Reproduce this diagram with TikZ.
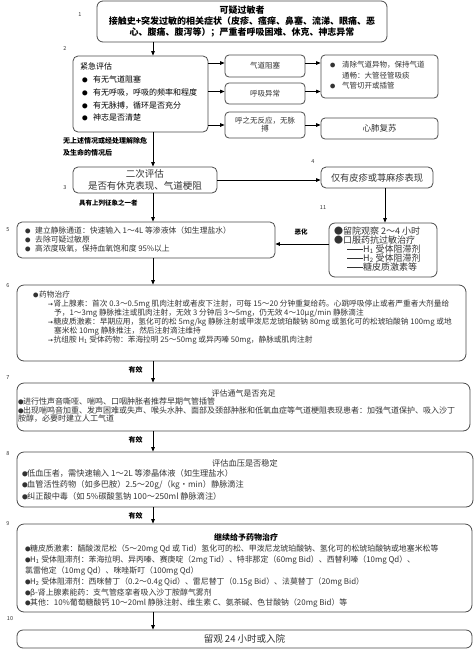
\documentclass[tikz,border=0pt]{standalone}
\usepackage{fontspec}
\usepackage{graphicx}
\setmainfont{Noto Sans CJK SC}
\usetikzlibrary{arrows.meta}
\newcommand{\fsz}[2]{\fontsize{#1pt}{#2pt}\selectfont}
\newcommand{\dotb}{\scalebox{0.7}{●}}
\newcommand{\arw}{\makebox[5.5pt][l]{\resizebox{5pt}{!}{\textbf{→}}}}
\definecolor{bordc}{HTML}{4A4A4A}
\definecolor{txtc}{HTML}{333333}
\begin{document}
\begin{tikzpicture}[x=1pt,y=-1pt,
  box/.style={draw=bordc, line width=0.8pt, rounded corners=6pt, inner sep=0pt, text=txtc},
  sbox/.style={draw=bordc, line width=0.8pt, rounded corners=4pt, inner sep=0pt, text=txtc},
  txtn/.style={inner sep=0pt, text=txtc, align=left},
  lab/.style={inner sep=0pt, text=black, align=left, font=\fsz{7}{12}\bfseries},
  num/.style={inner sep=0pt, text=txtc, font=\fsz{5.5}{6}},
  arr/.style={draw=black, line width=0.8pt, -{Triangle[length=4.5pt,width=3.6pt]}}]
\useasboundingbox (0,0) rectangle (474,649);

% column coordinates
\coordinate (mx) at (153,0);
\coordinate (rx) at (385,0);
\coordinate (ya) at (0,63);
\coordinate (yb) at (0,91.5);
\coordinate (yc) at (0,125);
\coordinate (yd) at (0,180);
\coordinate (ye) at (0,244);

% box 1
\node[box, minimum width=290pt, minimum height=41pt, align=center, text=black,
  font=\fsz{9}{11}\bfseries] (b1) at (242,21.5)
  {可疑过敏者\\接触史+突发过敏的相关症状（皮疹、瘙痒、鼻塞、流涕、眼痛、恶\\心、腹痛、腹泻等）；严重者呼吸困难、休克、神志异常};

% box 2
\node[box, rounded corners=5pt, minimum width=135pt, minimum height=76pt] (b2) at (140.5,94) {};
\node[txtn, anchor=north west, text=black, font=\fsz{8}{12.7}] (t2) at (80,63)
  {紧急评估\\
   \hspace*{2pt}\makebox[11pt][l]{\dotb}有无气道阻塞\\
   \hspace*{2pt}\makebox[11pt][l]{\dotb}有无呼吸，呼吸的频率和程度\\
   \hspace*{2pt}\makebox[11pt][l]{\dotb}有无脉搏，循环是否充分\\
   \hspace*{2pt}\makebox[11pt][l]{\dotb}神志是否清楚};

% small boxes
\node[sbox, minimum width=80pt, minimum height=22pt, font=\fsz{7.5}{8}] (ba) at (265,66) {气道阻塞};
\node[sbox, minimum width=80pt, minimum height=21pt, font=\fsz{7.5}{8}] (bb) at (265,93.5) {呼吸异常};
\node[sbox, minimum width=80pt, minimum height=26pt, align=center, font=\fsz{7.5}{8}] (bc) at (265,125) {呼之无反应，无脉\\搏};
\node[sbox, minimum width=117pt, minimum height=43pt] (bd) at (379.5,76.5) {};
\node[txtn, anchor=north west, font=\fsz{7.5}{10.5}] (td) at (330,61.2)
  {\makebox[12pt][l]{\dotb}清除气道异物，保持气道\\
   \hspace*{12pt}通畅：大管径管吸痰\\
   \makebox[12pt][l]{\dotb}气管切开或插管};
\node[sbox, minimum width=117pt, minimum height=21pt, font=\fsz{8.5}{9}] (be) at (379.5,128.5) {心肺复苏};

\node[lab, anchor=north west] (la) at (63,137.5) {无上述情况或经处理解除危\\及生命的情况后};

% box 3, 4
\node[box, rounded corners=5pt, minimum width=144pt, minimum height=26pt, align=center,
  font=\fsz{9.5}{12}] (b3) at (145,180) {二次评估\\是否有休克表现、气道梗阻};
\node[box, rounded corners=5pt, minimum width=112pt, minimum height=21pt,
  font=\fsz{9.2}{10}] (b4) at (377,177.5) {仅有皮疹或荨麻疹表现};
\node[lab, anchor=west, font=\fsz{6.5}{7}\bfseries] (lb) at (79,203) {具有上列征象之一者};

% box 5
\node[box, rounded corners=5pt, minimum width=258pt, minimum height=36pt] (b5) at (146,240) {};
\node[txtn, anchor=north west, font=\fsz{7.8}{8.6}] (t5) at (25,227.1)
  {\makebox[10pt][l]{\dotb}建立静脉通道：快速输入 1～4L 等渗液体（如生理盐水）\\
   \makebox[10pt][l]{\dotb}去除可疑过敏原\\
   \makebox[10pt][l]{\dotb}高浓度吸氧，保持血氧饱和度 95\%以上};

% box 11
\node[box, minimum width=108pt, minimum height=54pt] (b11) at (383,250) {};
\node[txtn, anchor=north west, font=\fsz{9}{9}] (t11) at (334,226.5)
  {●留院观察 2～4 小时\\
   ●口服药抗过敏治疗\\
   \hspace*{13pt}\rule[0.32em]{16pt}{0.5pt}H\textsubscript{1} 受体阻滞剂\\
   \hspace*{13pt}\rule[0.32em]{16pt}{0.5pt}H\textsubscript{2} 受体阻滞剂\\
   \hspace*{13pt}\rule[0.32em]{16pt}{0.5pt}糖皮质激素等};
\node[lab, font=\fsz{6.5}{7}\bfseries] (lc) at (301,232) {恶化};

% box 6
\node[box, rounded corners=7pt, minimum width=449pt, minimum height=76pt] (b6) at (241.5,323) {};
\node[txtn, anchor=north west, font=\fsz{7.7}{9}] (t6) at (33,291.2)
  {\makebox[6pt][l]{\dotb}药物治疗\\
   \hspace*{15pt}\arw 肾上腺素：首次 0.3～0.5mg 肌肉注射或者皮下注射，可每 15～20 分钟重复给药。心跳呼吸停止或者严重者大剂量给\\
   \hspace*{21pt}予，1～3mg 静脉推注或肌肉注射，无效 3 分钟后 3～5mg，仍无效 4～10μg/min 静脉滴注\\
   \hspace*{15pt}\arw 糖皮质激素：早期应用，氢化可的松 5mg/kg 静脉注射或甲泼尼龙琥珀酸钠 80mg 或氢化可的松琥珀酸钠 100mg 或地\\
   \hspace*{21pt}塞米松 10mg 静脉推注，然后注射滴注维持\\
   \hspace*{15pt}\arw 抗组胺 H\textsubscript{1} 受体药物：苯海拉明 25～50mg 或异丙嗪 50mg，静脉或肌肉注射};

% box 7
\node[box, rounded corners=7pt, minimum width=453pt, minimum height=48pt] (b7) at (243.5,407) {};
\node[txtn, font=\fsz{8}{9}] (tt7) at (243.5,393) {评估通气是否充足};
\node[txtn, anchor=north west, font=\fsz{8}{8.3}] (t7) at (18,398)
  {\makebox[5pt][l]{\dotb}进行性声音嘶哑、喘鸣、口咽肿胀者推荐早期气管插管\\
   \makebox[5pt][l]{\dotb}出现喘鸣音加重、发声困难或失声、喉头水肿、面部及颈部肿胀和低氧血症等气道梗阻表现患者：加强气道保护、吸入沙丁\\
   胺醇，必要时建立人工气道};

% box 8
\node[box, rounded corners=7pt, minimum width=456pt, minimum height=55pt] (b8) at (245,479.5) {};
\node[txtn, font=\fsz{8.2}{9}] (tt8) at (245,463) {评估血压是否稳定};
\node[txtn, anchor=north west, font=\fsz{8.2}{11.5}] (t8) at (22,468.9)
  {\makebox[5pt][l]{\dotb}低血压者，需快速输入 1～2L 等渗晶体液（如生理盐水）\\
   \makebox[5pt][l]{\dotb}血管活性药物（如多巴胺）2.5～20g/（kg・min）静脉滴注\\
   \makebox[5pt][l]{\dotb}纠正酸中毒（如 5\%碳酸氢钠 100～250ml 静脉滴注）};

% box 9
\node[box, rounded corners=7pt, minimum width=455pt, minimum height=88pt] (b9) at (244.5,568) {};
\node[txtn, text=black, font=\fsz{8}{9}\bfseries] (tt9) at (246,537) {继续给予药物治疗};
\node[txtn, anchor=north west, font=\fsz{7.9}{10.8}] (t9) at (25,545)
  {\makebox[5pt][l]{\dotb}糖皮质激素：醋酸泼尼松（5～20mg Qd 或 Tid）氢化可的松、甲泼尼龙琥珀酸钠、氢化可的松琥珀酸钠或地塞米松等\\
   \makebox[5pt][l]{\dotb}H\textsubscript{1} 受体阻滞剂：苯海拉明、异丙嗪、赛庚啶（2mg Tid）、特非那定（60mg Bid）、西替利嗪（10mg Qd）、\\
   氯雷他定（10mg Qd）、咪唑斯叮（100mg Qd）\\
   \makebox[5pt][l]{\dotb}H\textsubscript{2} 受体阻滞剂：西咪替丁（0.2～0.4g Qid）、雷尼替丁（0.15g Bid）、法莫替丁（20mg Bid）\\
   \makebox[5pt][l]{\dotb}β-肾上腺素能药：支气管痉挛者吸入沙丁胺醇气雾剂\\
   \makebox[5pt][l]{\dotb}其他：10\%葡萄糖酸钙 10～20ml 静脉注射、维生素 C、氨茶碱、色甘酸钠（20mg Bid）等};

% box 10
\node[box, rounded corners=6pt, minimum width=455pt, minimum height=18pt, font=\fsz{9.5}{10}] (b10) at (244.5,639) {留观 24 小时或入院};

% labels
\node[lab] (e1) at (135.5,370) {有效};
\node[lab] (e2) at (135.5,440) {有效};
\node[lab] (e3) at (135.5,516) {有效};
\node[num] (n1) at (80,15) {1};
\node[num] (n2) at (65,48) {2};
\node[num] (n3) at (65,188) {3};
\node[num] (n4) at (313,162) {4};
\node[num] (n11) at (323,208) {11};
\node[num] (n5) at (8,230) {5};
\node[num] (n6) at (8,286) {6};
\node[num] (n7) at (8,378) {7};
\node[num] (n8) at (8,454) {8};
\node[num] (n9) at (8,524) {9};
\node[num] (n10) at (10,619) {10};

% connectors
\draw[arr] (b1.south -| mx) -- (b2.north -| mx);
\draw[arr] (b2.east |- ya) -- (ba.west |- ya);
\draw[arr] (b2.east |- yb) -- (bb.west |- yb);
\draw[arr] (b2.east |- yc) -- (bc.west |- yc);
\draw[arr] (ba.east |- ya) -- (bd.west |- ya);
\draw[arr] (bb.east |- yb) -- (bd.west |- yb);
\draw[arr] (bc.east |- yc) -- (be.west |- yc);
\draw[arr] (b2.south -| mx) -- (b3.north -| mx);
\draw[arr] (b3.east |- yd) -- (b4.west |- yd);
\draw[arr] (b4.south -| rx) -- (b11.north -| rx);
\draw[arr] (b3.south -| mx) -- (b5.north -| mx);
\draw[arr] (b11.west |- ye) -- (b5.east |- ye);
\draw[arr] (b5.south -| mx) -- (b6.north -| mx);
\draw[arr] (b6.south -| mx) -- (b7.north -| mx);
\draw[arr] (b7.south -| mx) -- (b8.north -| mx);
\draw[arr] (b8.south -| mx) -- (b9.north -| mx);
\draw[arr] (b9.south -| mx) -- (b10.north -| mx);
\end{tikzpicture}
\end{document}
